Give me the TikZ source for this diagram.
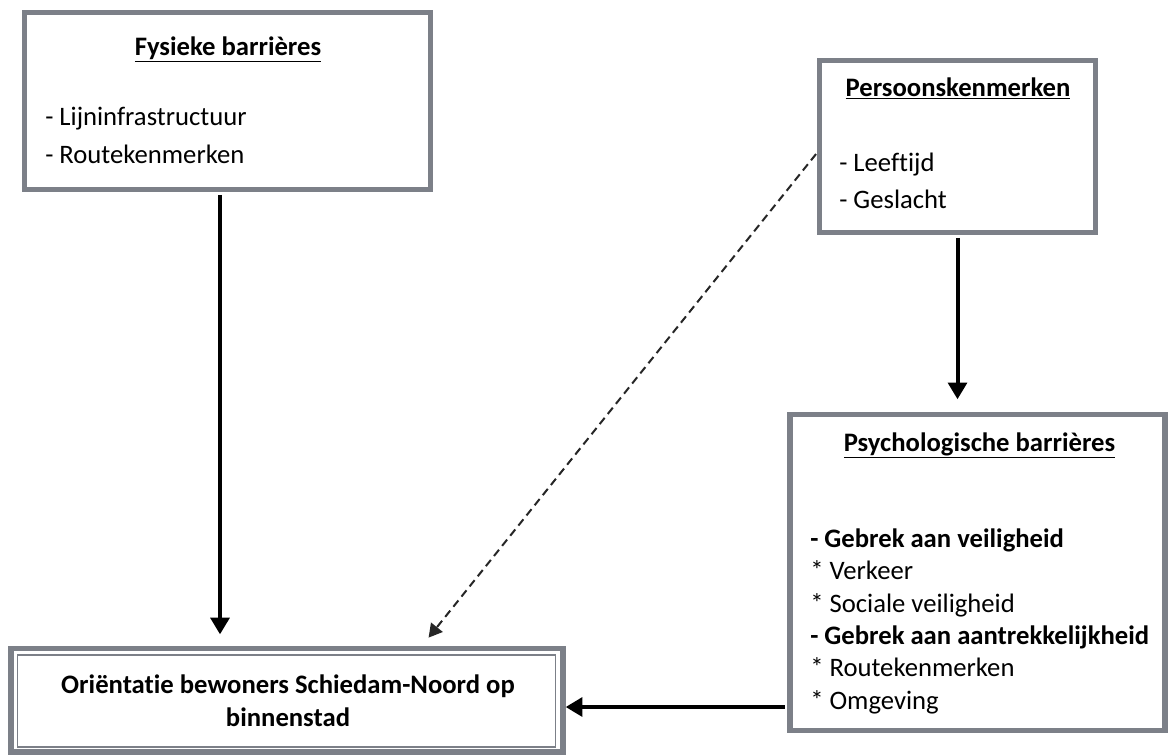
\documentclass[tikz,border=0pt]{standalone}
\usepackage{fontspec}
\setmainfont{Carlito}[Ligatures=NoCommon]
\usetikzlibrary{fit,arrows.meta}

\definecolor{kaderGrijs}{RGB}{124,128,136}
\tikzset{
    kader/.style={draw=kaderGrijs, line width=4pt, inner sep=0pt, fill=white},
    pijl/.style={line width=3pt, -{Triangle[width=14pt,length=12.5pt]}},
    stippel/.style={draw=black!85, line width=1.5pt, dash pattern=on 6pt off 3.75pt,
        -{Triangle[width=11pt,length=10pt]}},
    kop/.style={anchor=base, inner sep=0pt, font=\bfseries\fontsize{20}{24}\selectfont},
    lijst/.style={anchor=base west, align=left, inner sep=0pt}
}

\begin{document}
\begin{tikzpicture}[x=0.75pt,y=-0.75pt]
    \clip (0,0) rectangle (1169,754);
    \fill[white] (0,0) rectangle (1169,754);

    % kaders
    \node[kader, fit={(24.5,12.5) (430.5,189.5)}] (fysiek) {};
    \node[kader, fit={(819.5,60.5) (1095.5,232.5)}] (persoon) {};
    \node[kader, fit={(790,414.5) (1165,730.5)}] (psych) {};
    \node[kader, fit={(11,648.5) (563,752)}] (orient) {};
    \draw[kaderGrijs, line width=0.9pt] (17.5,655) rectangle (555.5,747);

    % teksten (anker op de basislijn van de laatste regel)
    \node[kop] (fysiekKop) at (228,55) {\underline{Fysieke barrières}};
    \node[lijst, font=\fontsize{20}{28.5}\selectfont] (fysiekLijst) at (45,163)
        {- Lijninfrastructuur\\
         - Routekenmerken};

    \node[kop] (persoonKop) at (958,96) {\underline{Persoonskenmerken}};
    \node[lijst, font=\fontsize{20}{27.75}\selectfont] (persoonLijst) at (839,208)
        {- Leeftijd\\
         - Geslacht};

    \node[kop] (psychKop) at (979.5,451) {\underline{Psychologische barrières}};
    \node[lijst, font=\fontsize{20}{24.2}\selectfont] (psychLijst) at (810,709)
        {\textbf{- Gebrek aan veiligheid}\\
         * Verkeer\\
         * Sociale veiligheid\\
         \textbf{- Gebrek aan aantrekkelijkheid}\\
         * Routekenmerken\\
         * Omgeving};

    \node[anchor=base, align=center, inner sep=0pt,
          font=\bfseries\fontsize{20}{24.75}\selectfont] (orientTekst) at (288,726)
        {Oriëntatie bewoners Schiedam-Noord op\\
         binnenstad};

    % pijlen
    \coordinate (pijlX) at (220,0);
    \coordinate (pijlY) at (0,707);
    \coordinate (stipX) at (422,0);
    \draw[pijl, shorten <=2pt, shorten >=8.6pt] (fysiek.south -| pijlX) -- (orient.north -| pijlX);
    \draw[pijl, shorten <=2pt, shorten >=9.4pt] (persoon.south) -- (persoon.south |- psych.north);
    \draw[pijl, shorten <=2pt] (psych.west |- pijlY) -- (orient.east |- pijlY);
    \draw[stippel, shorten <=1pt, shorten >=7.9pt] ([yshift=-4.9pt]persoon.west) -- (orient.north -| stipX);
\end{tikzpicture}
\end{document}
